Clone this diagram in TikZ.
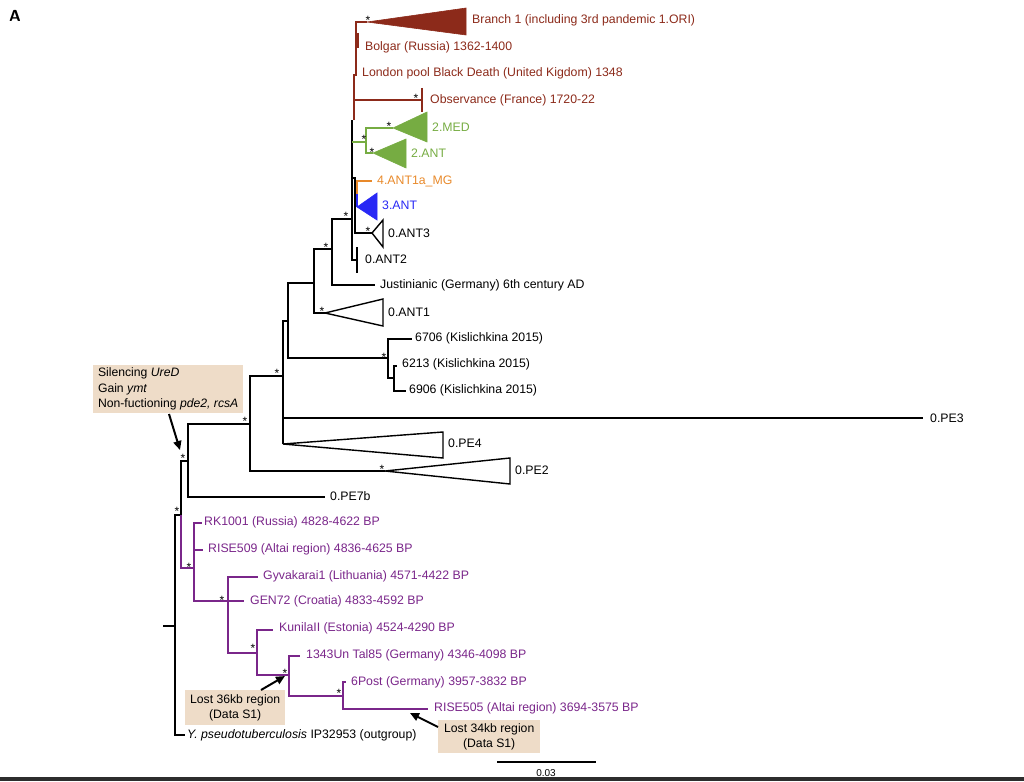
\documentclass[tikz,border=0pt]{standalone}
\usepackage{fontspec}
\setmainfont{Liberation Sans}
\usetikzlibrary{arrows.meta}
\definecolor{brn}{RGB}{140,42,26}
\definecolor{grn}{RGB}{118,172,66}
\definecolor{org}{RGB}{232,137,42}
\definecolor{blu}{RGB}{40,40,245}
\definecolor{pur}{RGB}{122,38,138}
\definecolor{boxc}{RGB}{238,220,200}
\definecolor{strip}{RGB}{45,45,45}
\begin{document}
\begin{tikzpicture}[x=1pt,y=-1pt,
  br/.style={line width=2.1pt},
  lab/.style={anchor=west,inner sep=0pt,font=\fontsize{12.3}{14}\selectfont},
  st/.style={inner sep=0pt,font=\fontsize{12}{10}\selectfont},
  wtri/.style={draw=black,line width=1.4pt,fill=white,line join=miter},
  ctri/.style={line width=0.6pt,line join=miter},
  boxst/.style={fill=boxc,inner xsep=0pt,inner ysep=0pt,font=\fontsize{12.2}{15.5}\selectfont},
  arr/.style={line width=2pt,-{Triangle[length=9pt,width=8pt]}}]
\useasboundingbox (0,0) rectangle (1024,781);
\fill[strip] (0,777) rectangle (1024,781);
\node[anchor=west,inner sep=0pt,font=\sffamily\bfseries\fontsize{16}{16}\selectfont] (lblA) at (9,16) {A};

% ---------- coordinates ----------
\coordinate (r0) at (163,626);
\coordinate (r) at (175,626);
\coordinate (ypse) at (185,735);
\coordinate (n1) at (181,515);
\coordinate (n2) at (188,461);
\coordinate (pe7b) at (325,497);
\coordinate (n3) at (250,424);
\coordinate (n4) at (283,376);
\coordinate (pe2a) at (385,471);
\coordinate (n5) at (288,321);
\coordinate (pe3) at (923,418);
\coordinate (pe4a) at (283,444);
\coordinate (n6) at (314,283);
\coordinate (kis) at (388,358);
\coordinate (n7) at (332,249);
\coordinate (ant1a) at (325,313);
\coordinate (n8) at (352,219);
\coordinate (just) at (375,285);
\coordinate (ant2) at (357,260);
\coordinate (bt) at (352,120);
\coordinate (n9) at (352,178);
\coordinate (n9b) at (355,178);
\coordinate (ant3a) at (372,233);
\coordinate (gj) at (352,142);
\coordinate (g) at (366,142);
\coordinate (med) at (393,128);
\coordinate (gant) at (373,153);
\coordinate (ob) at (357,194);
\coordinate (amg) at (372,181);
\coordinate (ant3b) at (357,207);
\coordinate (b0) at (354,120);
\coordinate (b1) at (354,75);
\coordinate (b2) at (356,75);
\coordinate (b3) at (356,22);
\coordinate (br1a) at (367,22);
\coordinate (b4) at (354,100);
\coordinate (obs) at (422,100);
\coordinate (k6706) at (412,339);
\coordinate (kb) at (394,378);
\coordinate (k6213) at (397,366);
\coordinate (k6906) at (406,391);
\coordinate (p1) at (194,568);
\coordinate (rk) at (202,523);
\coordinate (ri509) at (203,550);
\coordinate (p2) at (228,601);
\coordinate (gyv) at (258,577);
\coordinate (gen) at (244,601);
\coordinate (p3) at (257,653);
\coordinate (kun) at (273,630);
\coordinate (p4) at (289,675);
\coordinate (tal) at (300,656);
\coordinate (p5) at (343,696);
\coordinate (post) at (346,682);
\coordinate (ri505) at (428,709);

% ---------- black backbone ----------
\draw[br] (r0) -- (r);
\draw[br] (r) |- (n1);
\draw[br] (r) |- (ypse);
\draw[br] (n1) |- (n2);
\draw[br] (n2) |- (n3);
\draw[br] (n2) |- (pe7b);
\draw[br] (n3) |- (n4);
\draw[br] (n3) |- (pe2a);
\draw[br] (n4) |- (n5);
\draw[br] (n4) |- (pe3);
\draw[br] (n4) -- (pe4a);
\draw[br] (n5) |- (n6);
\draw[br] (n5) |- (kis);
\draw[br] (kis) |- (k6706);
\draw[br] (kis) |- (kb);
\draw[br] (kb) |- (k6213);
\draw[br] (kb) |- (k6906);
\draw[br] (n6) |- (n7);
\draw[br] (n6) |- (ant1a);
\draw[br] (n7) |- (n8);
\draw[br] (n7) |- (just);
\draw[br] (n8) |- (ant2);
\draw[br] (n8) -- (bt);
\draw[br] (n9) -- (n9b) |- (ant3a);
\draw[br] (357,247) -- (357,273);

% ---------- coloured clades ----------
\draw[br,brn] (b0) -- (b1) -- (b2) -- (b3) -- (br1a);
\draw[br,brn] (b4) -- (obs);
\draw[brn,line width=2.2pt] (422,88) -- (422,112);
\draw[brn,line width=3pt] (357.5,33) -- (357.5,48);
\filldraw[ctri,brn] (br1a) -- (466,8) -- (466,35) -- cycle;
\draw[br,grn] (gj) -- (g);
\draw[br,grn] (g) |- (med);
\draw[br,grn] (g) |- (gant);
\filldraw[ctri,grn] (med) -- (427,112) -- (427,142) -- cycle;
\filldraw[ctri,grn] (gant) -- (406,139) -- (406,168) -- cycle;
\draw[br,org] (ob) |- (amg);
\draw[br,blu] (ob) -- (ant3b);
\filldraw[ctri,blu] (ant3b) -- (377,193) -- (377,220) -- cycle;

% ---------- white triangles ----------
\draw[wtri] (ant3a) -- (383,220) -- (383,247) -- cycle;
\draw[wtri] (ant1a) -- (383,299) -- (383,326) -- cycle;
\draw[wtri] (pe4a) -- (443,432) -- (443,458) -- cycle;
\draw[wtri] (pe2a) -- (510,458) -- (510,484) -- cycle;

% ---------- purple clade ----------
\draw[br,pur] (n1) |- (p1);
\draw[br,pur] (p1) |- (rk);
\draw[br,pur] (p1) |- (ri509);
\draw[br,pur] (p1) |- (p2);
\draw[br,pur] (p2) |- (gyv);
\draw[br,pur] (p2) -- (gen);
\draw[br,pur] (p2) |- (p3);
\draw[br,pur] (p3) |- (kun);
\draw[br,pur] (p3) |- (p4);
\draw[br,pur] (p4) |- (tal);
\draw[br,pur] (p4) |- (p5);
\draw[br,pur] (p5) |- (post);
\draw[br,pur] (p5) |- (ri505);

% ---------- stars ----------
\foreach \nm/\x/\y in {s1/368/20, s2/416/98, s3/389/126, s4/364/139, s5/372/152,
  s6/346/216, s7/368/231, s8/326/247, s9/322/311, s10/384/357, s11/277/373,
  s12/245/421, s13/183/458, s14/382/469, s15/177/511, s16/189/567, s17/222/600,
  s18/253/648, s19/285/673, s20/339/693}
  \node[st] (\nm) at (\x,\y) {*};

% ---------- labels ----------
\node[lab,brn] (lb1) at (472,20) {Branch 1 (including 3rd pandemic 1.ORI)};
\node[lab,brn] (lbol) at (365,47) {Bolgar (Russia) 1362-1400};
\node[lab,brn] (llon) at (362,73) {London pool Black Death (United Kigdom) 1348};
\node[lab,brn] (lobs) at (430,100) {Observance (France) 1720-22};
\node[lab,grn] (lmed) at (432,127) {2.MED};
\node[lab,grn] (lgant) at (411,153) {2.ANT};
\node[lab,org] (lamg) at (377,181) {4.ANT1a\_MG};
\node[lab,blu] (l3ant) at (382,205) {3.ANT};
\node[lab] (lant3) at (388,233) {0.ANT3};
\node[lab] (lant2) at (365,259) {0.ANT2};
\node[lab] (ljust) at (380,285) {Justinianic (Germany) 6th century AD};
\node[lab] (lant1) at (388,312) {0.ANT1};
\node[lab] (l6706) at (415,338) {6706 (Kislichkina 2015)};
\node[lab] (l6213) at (402,364) {6213 (Kislichkina 2015)};
\node[lab] (l6906) at (409,390) {6906 (Kislichkina 2015)};
\node[lab] (lpe3) at (930,418) {0.PE3};
\node[lab] (lpe4) at (448,443) {0.PE4};
\node[lab] (lpe2) at (515,470) {0.PE2};
\node[lab] (lpe7) at (330,496) {0.PE7b};
\node[lab,pur] (lrk) at (204,522) {RK1001 (Russia) 4828-4622 BP};
\node[lab,pur] (lri509) at (208,549) {RISE509 (Altai region) 4836-4625 BP};
\node[lab,pur] (lgyv) at (263,576) {Gyvakarai1 (Lithuania) 4571-4422 BP};
\node[lab,pur] (lgen) at (250,601) {GEN72 (Croatia) 4833-4592 BP};
\node[lab,pur] (lkun) at (279,628) {KunilaII (Estonia) 4524-4290 BP};
\node[lab,pur] (ltal) at (306,655) {1343Un Tal85 (Germany) 4346-4098 BP};
\node[lab,pur] (lpost) at (351,682) {6Post (Germany) 3957-3832 BP};
\node[lab,pur] (lri505) at (434,708) {RISE505 (Altai region) 3694-3575 BP};
\node[lab] (lypse) at (187,735) {\textit{Y. pseudotuberculosis} IP32953 (outgroup)};

% ---------- annotation boxes ----------
\node[boxst,anchor=north west,align=left,minimum width=150pt,minimum height=48pt] (box1) at (93,365)
  {Silencing \textit{UreD}\\Gain \textit{ymt}\\Non-fuctioning \textit{pde2, rcsA}};
\node[boxst,anchor=north west,align=center,minimum width=100pt,minimum height=35pt] (box2) at (185,690)
  {Lost 36kb region\\(Data S1)};
\node[boxst,anchor=north west,align=center,minimum width=102pt,minimum height=33pt] (box3) at (438,720)
  {Lost 34kb region\\(Data S1)};
\coordinate (a1s) at (169,414);
\coordinate (a1e) at (180,450);
\coordinate (a2s) at (261,690);
\coordinate (a2e) at (285,676);
\coordinate (a3s) at (438,727);
\coordinate (a3e) at (410,713);
\draw[arr] (a1s) -- (a1e);
\draw[arr] (a2s) -- (a2e);
\draw[arr] (a3s) -- (a3e);

% ---------- scale bar ----------
\coordinate (sc1) at (497,762);
\coordinate (sc2) at (596,762);
\draw[line width=2pt] (sc1) -- (sc2);
\node[inner sep=0pt,font=\fontsize{10}{10}\selectfont] (scl) at (546,773) {0.03};
\end{tikzpicture}
\end{document}
